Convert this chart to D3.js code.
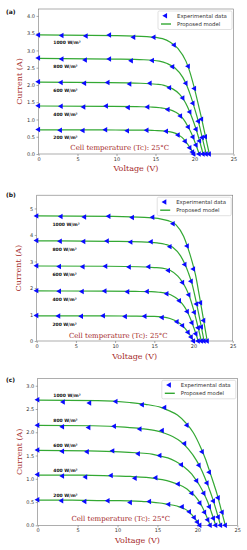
<!DOCTYPE html>
<html><head><meta charset="utf-8">
<script src="https://cdn.jsdelivr.net/npm/d3@7"></script>
<style>html,body{margin:0;padding:0;background:#fff;} svg{display:block;}</style>
</head><body>
<svg id="chart" width="247" height="550"></svg>
<script>
// ---------- data ----------
const irradianceLabels = ["1000 W/m²", "800 W/m²", "600 W/m²", "400 W/m²", "200 W/m²"];
const voltageTicks = [0, 5, 10, 15, 20, 25];
const currentTicksA = [0, 0.5, 1, 1.5, 2, 2.5, 3, 3.5, 4];
const currentTicksB = [0, 1, 2, 3, 4, 5];
const currentTicksC = [0, 0.5, 1, 1.5, 2, 2.5, 3];
const legendLabels = ["Experimental data", "Proposed model"];
const panelLetters = ["(a)", "(b)", "(c)"];
const xTitle = "Voltage (V)";
const yTitle = "Current (A)";
const tempNote = "Cell temperature (Tc): 25°C";

// panel (a)
const modelVA = [
  [0, 9.9, 13.9, 15.9, 16.9, 17.9, 18.9, 19.4, 19.9, 20.4, 20.9, 21.4, 21.9],
  [0, 9.5, 13.5, 15.5, 16.5, 17.5, 18.5, 19.0, 19.5, 20.0, 20.5, 21.0, 21.5],
  [0, 9.1, 13.1, 15.1, 16.1, 17.1, 18.1, 18.6, 19.1, 19.6, 20.1, 20.6, 21.1],
  [0, 8.6, 12.6, 14.6, 15.6, 16.6, 17.6, 18.1, 18.6, 19.1, 19.6, 20.1, 20.6],
  [0, 7.9, 11.9, 13.9, 14.9, 15.9, 16.9, 17.4, 17.9, 18.4, 18.9, 19.4, 19.9]];
const modelIA = [
  [3.45, 3.43, 3.40, 3.34, 3.24, 3.05, 2.69, 2.38, 1.98, 1.52, 1.04, 0.52, 0],
  [2.77, 2.75, 2.73, 2.69, 2.62, 2.49, 2.22, 1.99, 1.69, 1.33, 0.94, 0.47, 0],
  [2.08, 2.07, 2.05, 2.02, 1.99, 1.90, 1.73, 1.58, 1.37, 1.10, 0.79, 0.42, 0],
  [1.39, 1.38, 1.37, 1.36, 1.34, 1.30, 1.21, 1.13, 1.00, 0.82, 0.60, 0.32, 0],
  [0.70, 0.70, 0.69, 0.69, 0.68, 0.67, 0.64, 0.61, 0.56, 0.48, 0.35, 0.19, 0]];
const expVA = [
  [0, 3.0, 6.1, 9.1, 12.2, 14.8, 17.4, 19.2, 20.0, 20.9, 21.4, 21.9],
  [0, 3.0, 6.0, 9.1, 11.9, 14.6, 17.2, 18.9, 19.8, 20.5, 21.0, 21.5],
  [0, 2.9, 5.9, 8.9, 11.7, 14.3, 16.8, 18.5, 19.4, 20.2, 20.65, 21.1],
  [0, 2.9, 5.8, 8.7, 11.5, 14.0, 16.6, 18.2, 19.2, 19.8, 20.2, 20.6],
  [0, 2.8, 5.7, 8.6, 11.4, 13.9, 16.4, 17.9, 18.8, 19.4, 19.75, 19.9]];
const expIA = [
  [3.45, 3.43, 3.42, 3.45, 3.38, 3.38, 3.16, 2.54, 1.90, 1.01, 0.50, 0],
  [2.78, 2.75, 2.72, 2.75, 2.70, 2.71, 2.53, 2.05, 1.47, 0.95, 0.48, 0],
  [2.09, 2.07, 2.05, 2.07, 2.03, 2.05, 1.92, 1.62, 1.22, 0.72, 0.38, 0],
  [1.40, 1.38, 1.36, 1.39, 1.35, 1.36, 1.29, 1.10, 0.78, 0.49, 0.26, 0],
  [0.71, 0.69, 0.68, 0.70, 0.67, 0.69, 0.66, 0.55, 0.37, 0.18, 0.06, 0]];

// panel (b)
const modelVB = [
  [0, 9.75, 13.75, 15.75, 16.75, 17.75, 18.75, 19.25, 19.75, 20.25, 20.75, 21.25, 21.75],
  [0, 9.35, 13.35, 15.35, 16.35, 17.35, 18.35, 18.85, 19.35, 19.85, 20.35, 20.85, 21.35],
  [0, 9.0, 13.0, 15.0, 16.0, 17.0, 18.0, 18.5, 19.0, 19.5, 20.0, 20.5, 21.0],
  [0, 8.6, 12.6, 14.6, 15.6, 16.6, 17.6, 18.1, 18.6, 19.1, 19.6, 20.1, 20.6],
  [0, 8.0, 12.0, 14.0, 15.0, 16.0, 17.0, 17.5, 18.0, 18.5, 19.0, 19.5, 20.0]];
const modelIB = [
  [4.72, 4.70, 4.66, 4.61, 4.54, 4.39, 3.94, 3.54, 3.07, 2.50, 1.70, 0.85, 0],
  [3.78, 3.76, 3.74, 3.70, 3.65, 3.54, 3.21, 2.93, 2.57, 2.12, 1.47, 0.76, 0],
  [2.83, 2.82, 2.80, 2.77, 2.75, 2.67, 2.45, 2.26, 2.01, 1.67, 1.19, 0.62, 0],
  [1.89, 1.88, 1.87, 1.86, 1.84, 1.80, 1.66, 1.55, 1.39, 1.17, 0.85, 0.45, 0],
  [0.95, 0.95, 0.94, 0.93, 0.93, 0.91, 0.85, 0.79, 0.71, 0.61, 0.45, 0.25, 0]];
const expVB = [
  [0, 3.1, 6.1, 9.2, 12.2, 14.8, 17.4, 19.2, 20.0, 20.9, 21.3, 21.75],
  [0, 3.0, 6.0, 9.0, 12.0, 14.6, 17.0, 18.9, 19.7, 20.4, 21.0, 21.35],
  [0, 2.9, 5.9, 8.8, 11.8, 14.3, 16.8, 18.6, 19.4, 20.1, 20.6, 21.0],
  [0, 2.9, 5.8, 8.7, 11.6, 14.1, 16.6, 18.2, 19.2, 19.8, 20.3, 20.6],
  [0, 2.8, 5.7, 8.5, 11.3, 13.8, 16.0, 17.9, 18.6, 19.3, 19.7, 20.0]];
const expIB = [
  [4.72, 4.70, 4.68, 4.71, 4.66, 4.67, 4.42, 3.58, 2.72, 1.44, 0.77, 0],
  [3.79, 3.76, 3.75, 3.77, 3.73, 3.74, 3.56, 2.89, 2.25, 1.40, 0.53, 0],
  [2.84, 2.81, 2.80, 2.82, 2.79, 2.80, 2.66, 2.21, 1.74, 1.08, 0.50, 0],
  [1.90, 1.88, 1.87, 1.89, 1.86, 1.87, 1.78, 1.52, 1.11, 0.69, 0.27, 0],
  [0.96, 0.94, 0.93, 0.95, 0.92, 0.93, 0.89, 0.73, 0.58, 0.33, 0.15, 0]];

// panel (c)
const modelVC = [
  [0, 7.5, 11.5, 13.5, 15.5, 16.5, 17.5, 18.5, 19.5, 20.5, 21.0, 21.5, 22.0, 22.5, 23.0, 23.5],
  [0, 6.9, 10.9, 12.9, 14.9, 15.9, 16.9, 17.9, 18.9, 19.9, 20.4, 20.9, 21.4, 21.9, 22.4, 22.9],
  [0, 6.3, 10.3, 12.3, 14.3, 15.3, 16.3, 17.3, 18.3, 19.3, 19.8, 20.3, 20.8, 21.3, 21.8, 22.3],
  [0, 5.6, 9.6, 11.6, 13.6, 14.6, 15.6, 16.6, 17.6, 18.6, 19.1, 19.6, 20.1, 20.6, 21.1, 21.6],
  [0, 4.3, 8.3, 10.3, 12.3, 13.3, 14.3, 15.3, 16.3, 17.3, 17.8, 18.3, 18.8, 19.3, 19.8, 20.3]];
const modelIC = [
  [2.69, 2.68, 2.64, 2.60, 2.53, 2.46, 2.37, 2.21, 1.99, 1.64, 1.43, 1.18, 0.92, 0.65, 0.32, 0],
  [2.15, 2.14, 2.11, 2.08, 2.03, 1.98, 1.91, 1.80, 1.63, 1.39, 1.23, 1.04, 0.82, 0.58, 0.30, 0],
  [1.61, 1.60, 1.58, 1.56, 1.53, 1.49, 1.45, 1.37, 1.26, 1.10, 0.98, 0.85, 0.69, 0.50, 0.26, 0],
  [1.08, 1.08, 1.06, 1.05, 1.03, 1.01, 0.98, 0.94, 0.88, 0.79, 0.72, 0.65, 0.54, 0.40, 0.21, 0],
  [0.54, 0.54, 0.53, 0.53, 0.52, 0.51, 0.50, 0.48, 0.45, 0.42, 0.39, 0.36, 0.31, 0.23, 0.12, 0]];
const expVC = [
  [0, 3.2, 6.5, 9.8, 13.1, 15.9, 18.7, 20.6, 21.5, 22.6, 23.1, 23.5],
  [0, 3.1, 6.4, 9.6, 12.8, 15.6, 18.4, 20.2, 21.2, 22.0, 22.6, 22.9],
  [0, 3.1, 6.2, 9.4, 12.6, 15.3, 18.0, 19.9, 20.8, 21.5, 22.0, 22.3],
  [0, 3.1, 6.0, 9.2, 12.2, 14.8, 17.6, 19.3, 20.3, 20.9, 21.3, 21.6],
  [0, 3.0, 5.9, 8.8, 11.6, 14.0, 16.4, 18.1, 19.0, 19.6, 20.0, 20.3]];
const expIC = [
  [2.70, 2.65, 2.63, 2.66, 2.59, 2.53, 2.15, 1.58, 1.14, 0.59, 0.28, 0],
  [2.15, 2.12, 2.10, 2.13, 2.07, 2.04, 1.76, 1.29, 0.91, 0.52, 0.18, 0],
  [1.62, 1.59, 1.58, 1.60, 1.54, 1.50, 1.30, 0.96, 0.69, 0.40, 0.15, 0],
  [1.09, 1.06, 1.04, 1.07, 1.01, 1.02, 0.89, 0.69, 0.48, 0.28, 0.12, 0],
  [0.55, 0.53, 0.51, 0.53, 0.49, 0.51, 0.45, 0.40, 0.29, 0.17, 0.07, 0]];

// ---------- layout ----------
const COL_LINE = "#33a833", COL_MARK = "#0a0aff", COL_RED = "#a52a2a";
const panels = [
  {letter: panelLetters[0], mv: modelVA, mi: modelIA, ev: expVA, ei: expIA, ticks: currentTicksA, fmt: d3.format(".1f"),
   yMax: 4.2, left: 38.5, right: 233.5, top: 9, bottom: 154, labelDy: 8, labelV: 1.9, noteY: 147.3, noteX: 119.7, xTitleY: 168.3, letterY: 11.7},
  {letter: panelLetters[1], mv: modelVB, mi: modelIB, ev: expVB, ei: expIB, ticks: currentTicksB, fmt: d3.format("d"),
   yMax: 5.5, left: 36.7, right: 232.7, top: 195.2, bottom: 341, labelDy: 8.5, labelV: 2.0, noteY: 335.7, noteX: 118.3, xTitleY: 356, letterY: 195},
  {letter: panelLetters[2], mv: modelVC, mi: modelIC, ev: expVC, ei: expIC, ticks: currentTicksC, fmt: d3.format(".1f"),
   yMax: 3.16, left: 37.7, right: 237.3, top: 378.3, bottom: 525.3, labelDy: -4.8, labelV: 1.96, noteY: 519, noteX: 120.8, xTitleY: 540, letterY: 380}
];

const svg = d3.select("#chart");
svg.append("rect").attr("width", 247).attr("height", 550).attr("fill", "#fff");
const tri = d3.symbol().type(d3.symbolTriangle).size(13);

panels.forEach(p => {
  const g = svg.append("g");
  const x = d3.scaleLinear().domain([0, 25]).range([p.left, p.right]);
  const y = d3.scaleLinear().domain([0, p.yMax]).range([p.bottom, p.top]);

  // axes
  const xAxis = d3.axisBottom(x).tickValues(voltageTicks).tickSize(2).tickPadding(1.5).tickFormat(d3.format("d"));
  const yAxis = d3.axisLeft(y).tickValues(p.ticks).tickSize(2).tickPadding(1.5).tickFormat(p.fmt);
  const gx = g.append("g").attr("transform", `translate(0,${p.bottom})`).call(xAxis);
  const gy = g.append("g").attr("transform", `translate(${p.left},0)`).call(yAxis);
  [gx, gy].forEach(a => {
    a.select(".domain").remove();
    a.selectAll(".tick line").attr("stroke", "#555").attr("stroke-width", 0.5);
    a.selectAll(".tick text").attr("font-family", "DejaVu Sans").attr("font-size", 5).attr("fill", "#333");
  });

  // frame
  g.append("rect").attr("x", p.left).attr("y", p.top).attr("width", p.right - p.left).attr("height", p.bottom - p.top)
    .attr("fill", "none").attr("stroke", "#777").attr("stroke-width", 0.6);

  // model lines
  const line = d3.line().x(d => x(d[0])).y(d => y(d[1])).curve(d3.curveMonotoneX);
  p.mv.forEach((vs, k) => {
    const pts = vs.map((v, j) => [v, p.mi[k][j]]);
    g.append("path").attr("d", line(pts)).attr("fill", "none").attr("stroke", COL_LINE).attr("stroke-width", 1.2);
  });
  // experimental markers
  p.ev.forEach((vs, k) => {
    vs.forEach((v, j) => {
      g.append("path").attr("d", tri).attr("fill", COL_MARK)
        .attr("transform", `translate(${x(v)},${y(p.ei[k][j])}) rotate(-90)`);
    });
  });

  // irradiance labels
  irradianceLabels.forEach((t, k) => {
    g.append("text").attr("x", x(p.labelV)).attr("y", y(p.mi[k][0]) + p.labelDy).attr("dy", "0.35em")
      .attr("font-family", "DejaVu Sans").attr("font-weight", "bold").attr("font-size", 4.5).attr("fill", "#111").text(t);
  });

  // note
  g.append("text").attr("x", p.noteX).attr("y", p.noteY).attr("dy", "0.35em").attr("text-anchor", "middle")
    .attr("font-family", "DejaVu Serif").attr("font-size", 7).attr("fill", COL_RED).text(tempNote);

  // axis titles
  g.append("text").attr("x", (p.left + p.right) / 2).attr("y", p.xTitleY).attr("dy", "0.35em").attr("text-anchor", "middle")
    .attr("font-family", "DejaVu Serif").attr("font-size", 8).attr("fill", COL_RED).text(xTitle);
  g.append("text").attr("transform", `translate(${p.left - 19},${(p.top + p.bottom) / 2}) rotate(-90)`)
    .attr("dy", "0.35em").attr("text-anchor", "middle")
    .attr("font-family", "DejaVu Serif").attr("font-size", 8).attr("fill", COL_RED).text(yTitle);

  // panel letter
  g.append("text").attr("x", 6).attr("y", p.letterY).attr("dy", "0.35em")
    .attr("font-family", "DejaVu Sans").attr("font-weight", "bold").attr("font-size", 6).attr("fill", "#111").text(p.letter);

  // legend
  const lw = 74, lh = 18.5;
  const lx = p.right - 1.5 - lw, ly = p.top + 2;
  const lg = g.append("g");
  lg.append("rect").attr("x", lx).attr("y", ly).attr("width", lw).attr("height", lh).attr("rx", 1.5)
    .attr("fill", "#fff").attr("fill-opacity", 0.85).attr("stroke", "#ccc").attr("stroke-width", 0.6);
  lg.append("path").attr("d", tri).attr("fill", COL_MARK)
    .attr("transform", `translate(${lx + 7.5},${ly + 4.7}) rotate(-90)`);
  lg.append("line").attr("x1", lx + 3).attr("x2", lx + 13).attr("y1", ly + 13).attr("y2", ly + 13)
    .attr("stroke", COL_LINE).attr("stroke-width", 1.4);
  legendLabels.forEach((t, k) => {
    lg.append("text").attr("x", lx + 19).attr("y", ly + 4.7 + k * 8.3).attr("dy", "0.35em")
      .attr("font-family", "DejaVu Sans").attr("font-size", 5.4).attr("fill", "#333").text(t);
  });
});
</script>
</body></html>
